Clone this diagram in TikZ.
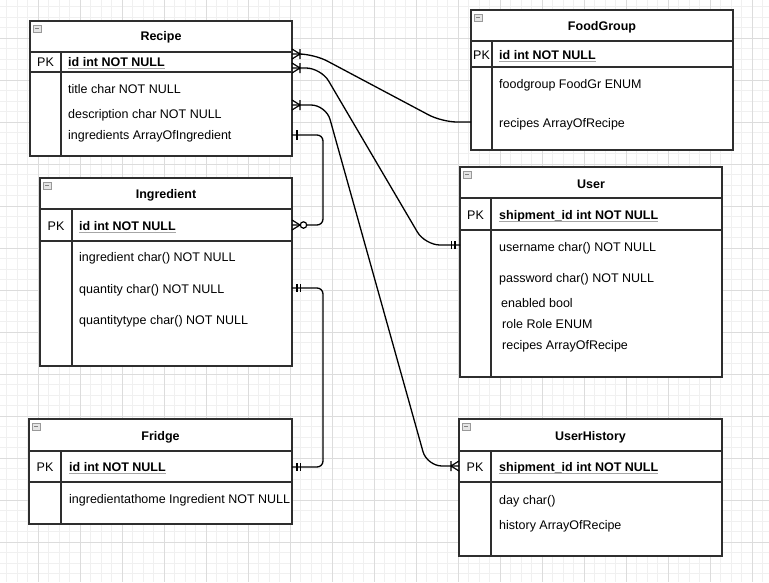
\documentclass[tikz,border=0pt]{standalone}
\usepackage{fontspec}
\setmainfont{Liberation Sans}
\usetikzlibrary{calc}
\definecolor{gridminor}{HTML}{F0F0F0}
\definecolor{gridmajor}{HTML}{DCDCDC}
\definecolor{boxline}{HTML}{2E2E2E}

\begin{document}
\begin{tikzpicture}[x=1pt,y=-1pt,
  ent/.style={draw=boxline,line width=1.4pt,fill=white,inner sep=0pt,outer sep=0pt,anchor=north west},
  sep/.style={draw=boxline,line width=1.4pt},
  fld/.style={anchor=base west,inner sep=0pt,font=\fontsize{12.5}{15}\selectfont},
  pkf/.style={anchor=base west,inner sep=0pt,font=\fontsize{12.5}{15}\selectfont\bfseries},
  pkl/.style={anchor=base,inner sep=0pt,font=\fontsize{12.5}{15}\selectfont},
  ttl/.style={anchor=base,inner sep=0pt,font=\fontsize{12.5}{15}\selectfont\bfseries},
  icon/.style={draw=gray!80,fill=gray!20,line width=0.6pt},
  rel/.style={draw=black,line width=1.3pt,rounded corners=15pt},
  tipline/.style={draw=black,line width=1.2pt},
  pics/onemany/.style={code={\draw[tipline] (0,-5) -- (8,0) -- (0,5) (8,-5) -- (8,5);}},
  pics/zeromany/.style={code={\draw[tipline] (0,-5) -- (8,0) -- (0,5); \draw[tipline,fill=white] (11.5,0) circle (3.2pt);}},
  pics/mandone/.style={code={\draw[tipline] (5,-4) -- (5,4) (8.5,-4) -- (8.5,4);}},
  pics/onebar/.style={code={\draw[tipline] (5,-5) -- (5,5);}}]
  \useasboundingbox[fill=white] (0,0) rectangle (769,582);
  % grid
  \foreach \i in {0,...,72} \draw[gridminor,line width=0.7pt] ({6.5+10.5*\i},0) -- ({6.5+10.5*\i},582);
  \foreach \i in {0,...,54} \draw[gridminor,line width=0.7pt] (0,{6.5+10.5*\i}) -- (769,{6.5+10.5*\i});
  \foreach \i in {0,...,17} \draw[gridmajor,line width=0.7pt] ({38+42*\i},0) -- ({38+42*\i},582);
  \foreach \i in {0,...,12} \draw[gridmajor,line width=0.7pt] (0,{38+42*\i}) -- (769,{38+42*\i});

  % Recipe
  \node[ent,minimum width=262pt,minimum height=135pt] (recipe) at (30,21) {};
  \draw[sep] (30,52) -- (292,52) (30,72) -- (292,72) (61,52) -- (61,156);
  \draw[icon] (33,25) rectangle (41,32); \draw[gray] (35,28.5) -- (39,28.5);
  \node[ttl] (recipe-t) at (161,40.5) {Recipe};
  \node[pkl] (recipe-pk) at (45.5,66.5) {PK};
  \node[pkf] (recipe-id) at (68,66.5) {id int NOT NULL};
  \node[fld] (recipe-title) at (68,93) {title char NOT NULL};
  \node[fld] (recipe-desc) at (68,118) {description char NOT NULL};
  \node[fld] (recipe-ingr) at (68,139.5) {ingredients ArrayOfIngredient};

  % FoodGroup
  \node[ent,minimum width=262pt,minimum height=140pt] (foodgroup) at (471,10) {};
  \draw[sep] (471,41) -- (733,41) (471,67) -- (733,67) (492,41) -- (492,150);
  \draw[icon] (474,14) rectangle (482,21); \draw[gray] (476,17.5) -- (480,17.5);
  \node[ttl] (foodgroup-t) at (602,30.7) {FoodGroup};
  \node[pkl] (foodgroup-pk) at (481.5,59.3) {PK};
  \node[pkf] (foodgroup-id) at (499,59.3) {id int NOT NULL};
  \node[fld] (foodgroup-fg) at (499,88.3) {foodgroup FoodGr ENUM};
  \node[fld] (foodgroup-rec) at (499,127.7) {recipes ArrayOfRecipe};

  % Ingredient
  \node[ent,minimum width=252pt,minimum height=188pt] (ingredient) at (40,178) {};
  \draw[sep] (40,209) -- (292,209) (40,241) -- (292,241) (72,209) -- (72,366);
  \draw[icon] (43,182) rectangle (51,189); \draw[gray] (45,185.5) -- (49,185.5);
  \node[ttl] (ingredient-t) at (166,198.3) {Ingredient};
  \node[pkl] (ingredient-pk) at (56,230) {PK};
  \node[pkf] (ingredient-id) at (79,230) {id int NOT NULL};
  \node[fld] (ingredient-name) at (79,261.7) {ingredient char() NOT NULL};
  \node[fld] (ingredient-qty) at (79,293.3) {quantity char() NOT NULL};
  \node[fld] (ingredient-qtype) at (79,324) {quantitytype char() NOT NULL};

  % User
  \node[ent,minimum width=262pt,minimum height=210pt] (user) at (460,167) {};
  \draw[sep] (460,198) -- (722,198) (460,230) -- (722,230) (491,198) -- (491,377);
  \draw[icon] (463,171) rectangle (471,178); \draw[gray] (465,174.5) -- (469,174.5);
  \node[ttl] (user-t) at (591,188.3) {User};
  \node[pkl] (user-pk) at (475.5,219.3) {PK};
  \node[pkf] (user-id) at (499,219.3) {shipment\_id int NOT NULL};
  \node[fld] (user-name) at (499,251.7) {username char() NOT NULL};
  \node[fld] (user-pw) at (499,282.3) {password char() NOT NULL};
  \node[fld] (user-en) at (501,307.3) {enabled bool};
  \node[fld] (user-role) at (502,328.3) {role Role ENUM};
  \node[fld] (user-rec) at (502,349) {recipes ArrayOfRecipe};

  % Fridge
  \node[ent,minimum width=263pt,minimum height=105pt] (fridge) at (29,419) {};
  \draw[sep] (29,451) -- (292,451) (29,482) -- (292,482) (61,451) -- (61,524);
  \draw[icon] (32,423) rectangle (40,430); \draw[gray] (34,426.5) -- (38,426.5);
  \node[ttl] (fridge-t) at (160.5,440) {Fridge};
  \node[pkl] (fridge-pk) at (45,471.7) {PK};
  \node[pkf] (fridge-id) at (69,471.7) {id int NOT NULL};
  \node[fld] (fridge-home) at (69,503.3) {ingredientathome Ingredient NOT NULL};

  % UserHistory
  \node[ent,minimum width=263pt,minimum height=137pt] (history) at (459,419) {};
  \draw[sep] (459,451) -- (722,451) (459,482) -- (722,482) (491,451) -- (491,556);
  \draw[icon] (462,423) rectangle (470,430); \draw[gray] (464,426.5) -- (468,426.5);
  \node[ttl] (history-t) at (590.5,440.7) {UserHistory};
  \node[pkl] (history-pk) at (475,471.7) {PK};
  \node[pkf] (history-id) at (499,471.7) {shipment\_id int NOT NULL};
  \node[fld] (history-day) at (499,504) {day char()};
  \node[fld] (history-list) at (499,529) {history ArrayOfRecipe};

  % underline of the keys
  \foreach \n in {recipe-id,foodgroup-id,ingredient-id,user-id,fridge-id,history-id}
    \draw[gray!70,line width=0.8pt] ([yshift=-2pt]\n.base west) -- ([yshift=-2pt]\n.base east);

  % ends of the relations
  \coordinate (rec-fg) at (recipe.east |- 0,54);
  \coordinate (fg-rec) at (foodgroup.west |- 0,122);
  \coordinate (rec-u) at (recipe.east |- 0,68);
  \coordinate (u-rec) at (user.west |- 0,245);
  \coordinate (rec-uh) at (recipe.east |- 0,105);
  \coordinate (uh-rec) at (history.west |- 0,466);
  \coordinate (rec-ing) at (recipe.east |- 0,135);
  \coordinate (ing-rec) at (ingredient.east |- 0,225);
  \coordinate (ing-fr) at (ingredient.east |- 0,288);
  \coordinate (fr-ing) at (fridge.east |- 0,467);

  \draw[rel] (rec-fg) -- (314,54) -- (442,122) -- (fg-rec);
  \draw[rel] (rec-u) -- (321,68) -- (425,245) -- (u-rec);
  \draw[rel] (rec-uh) -- (326,105) -- (427,466) -- (uh-rec);
  \draw[rel,rounded corners=6pt] (rec-ing) -- (323,135) -- (323,225) -- (ing-rec);
  \draw[rel,rounded corners=6pt] (ing-fr) -- (323,288) -- (323,467) -- (fr-ing);

  \path (rec-fg) pic {onemany} (rec-u) pic {onemany} (rec-uh) pic {onemany};
  \path (uh-rec) pic[rotate=180] {onemany} (u-rec) pic[rotate=180] {mandone};
  \path (rec-ing) pic {onebar} (ing-rec) pic {zeromany};
  \path (ing-fr) pic {mandone} (fr-ing) pic {mandone};
\end{tikzpicture}
\end{document}
